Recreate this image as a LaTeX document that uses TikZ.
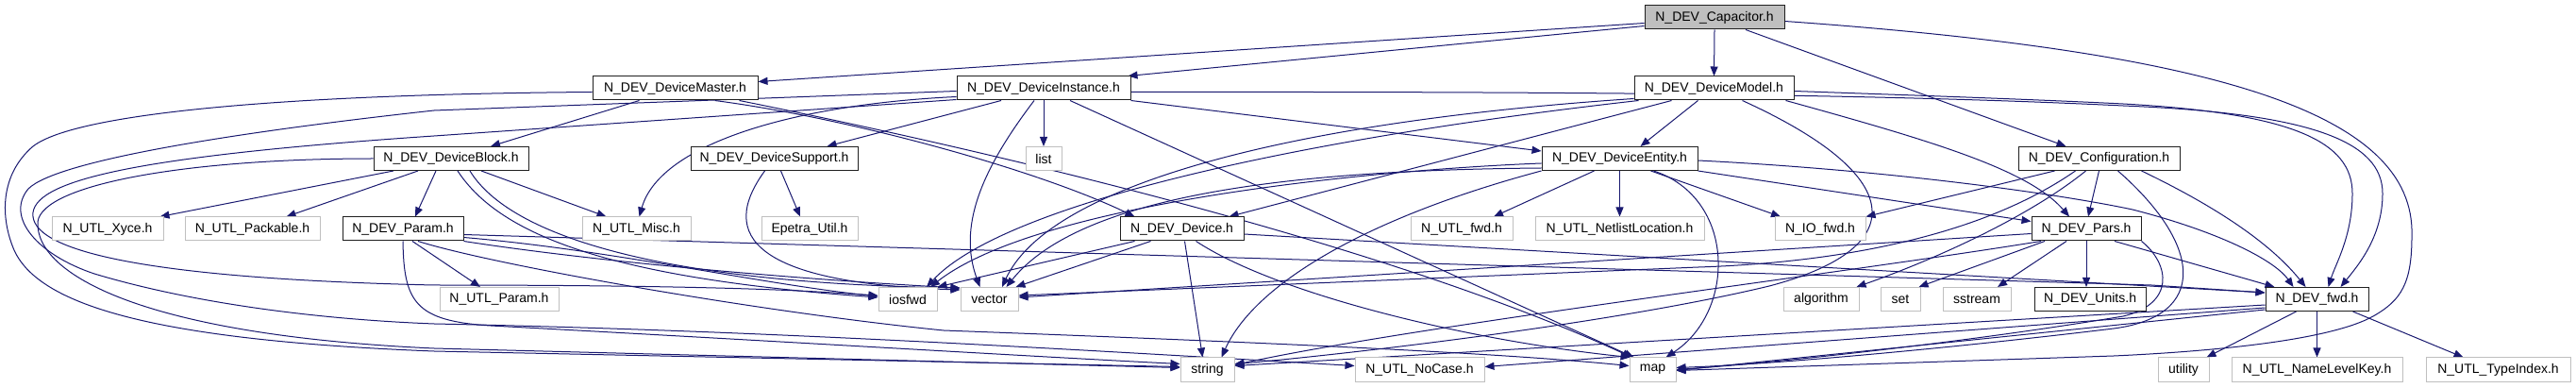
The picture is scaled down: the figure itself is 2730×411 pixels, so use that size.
\documentclass[tikz,border=0pt]{standalone}
\usepackage{fontspec}
\setmainfont{Liberation Sans}
\usetikzlibrary{arrows.meta}
\definecolor{edgeblue}{HTML}{191970}
\definecolor{extgrey}{HTML}{BFBFBF}
\definecolor{docborder}{HTML}{202020}
\pgfdeclarelayer{bglayer}
\pgfdeclarelayer{edgelayer}
\pgfsetlayers{bglayer,edgelayer,main}
\begin{document}
\begin{tikzpicture}[x=1pt,y=-1pt,
  box/.style={rectangle, minimum height=25pt, inner sep=0pt, line width=1pt, font=\fontsize{14}{16}\selectfont, fill=white, text=black},
  doc/.style={box, draw=docborder},
  ext/.style={box, draw=extgrey},
  cur/.style={box, draw=docborder, fill=extgrey},
  e/.style={draw=edgeblue, line width=1pt, -{Triangle[length=10pt,width=8pt]}}]
\begin{pgfonlayer}{bglayer}
\fill[white] (0,0) rectangle (2730,411);
\end{pgfonlayer}
\useasboundingbox (0,0) rectangle (2730,411);
% row 0
\node[cur, minimum width=148pt] (cap) at (1817,18.5) {N\_DEV\_Capacitor.h};
% row 1
\node[doc, minimum width=175pt] (master) at (715.5,93.5) {N\_DEV\_DeviceMaster.h};
\node[doc, minimum width=184pt] (inst) at (1106,93.5) {N\_DEV\_DeviceInstance.h};
\node[doc, minimum width=169pt] (model) at (1816.5,93.5) {N\_DEV\_DeviceModel.h};
% row 2
\node[doc, minimum width=164pt] (block) at (478,168) {N\_DEV\_DeviceBlock.h};
\node[doc, minimum width=177pt] (supp) at (820.5,168) {N\_DEV\_DeviceSupport.h};
\node[ext, minimum width=38pt] (list) at (1106,168) {list};
\node[doc, minimum width=165pt] (entity) at (1716.5,168) {N\_DEV\_DeviceEntity.h};
\node[doc, minimum width=171pt] (config) at (2224.5,168) {N\_DEV\_Configuration.h};
% row 3
\node[ext, minimum width=118pt] (xyce) at (114,242.5) {N\_UTL\_Xyce.h};
\node[ext, minimum width=143pt] (pack) at (267.5,242.5) {N\_UTL\_Packable.h};
\node[doc, minimum width=128pt] (param) at (427,242.5) {N\_DEV\_Param.h};
\node[ext, minimum width=115pt] (misc) at (674.5,242.5) {N\_UTL\_Misc.h};
\node[ext, minimum width=102pt] (epetra) at (858,242.5) {Epetra\_Util.h};
\node[doc, minimum width=131pt] (device) at (1252.5,242.5) {N\_DEV\_Device.h};
\node[ext, minimum width=108pt] (utlfwd) at (1549,242.5) {N\_UTL\_fwd.h};
\node[ext, minimum width=179pt] (netlist) at (1716.5,242.5) {N\_UTL\_NetlistLocation.h};
\node[ext, minimum width=96pt] (iofwd) at (1929,242.5) {N\_IO\_fwd.h};
\node[doc, minimum width=116pt] (pars) at (2211,242.5) {N\_DEV\_Pars.h};
% row 4
\node[ext, minimum width=126pt] (utlparam) at (529,317) {N\_UTL\_Param.h};
\node[ext, minimum width=62pt] (iosfwd) at (962,317) {iosfwd};
\node[ext, minimum width=61pt] (vector) at (1048.5,317) {vector};
\node[ext, minimum width=80pt] (algo) at (1930,317) {algorithm};
\node[ext, minimum width=42pt] (set) at (2014,317) {set};
\node[ext, minimum width=72pt] (sstream) at (2095,317) {sstream};
\node[doc, minimum width=118pt] (units) at (2215,317) {N\_DEV\_Units.h};
\node[doc, minimum width=109pt] (devfwd) at (2455.5,317) {N\_DEV\_fwd.h};
% row 5
\node[ext, minimum width=57pt] (string) at (1279.5,391.5) {string};
\node[ext, minimum width=137pt] (nocase) at (1504.5,391.5) {N\_UTL\_NoCase.h};
\node[ext, minimum width=49pt] (map) at (1751.5,391.5) {map};
\node[ext, minimum width=54pt] (utility) at (2314,391.5) {utility};
\node[ext, minimum width=181pt] (nlk) at (2455.5,391.5) {N\_UTL\_NameLevelKey.h};
\node[ext, minimum width=153pt] (typeidx) at (2647.5,391.5) {N\_UTL\_TypeIndex.h};

\begin{pgfonlayer}{edgelayer}
% Capacitor
\draw[e] ([yshift=-6]cap.west) -- ([yshift=7]master.east);
\draw[e] ([yshift=-9]cap.west) -- ([xshift=-3]inst.north east);
\draw[e] (cap.south) -- (model.north);
\draw[e] ([xshift=33]cap.south) -- ([xshift=-35]config.north);
\draw[e] ([yshift=-4]cap.east) .. controls (2350,55) and (2560,120) .. (2556,250) .. controls (2556,300) and (2545,318) .. (2515,335) .. controls (2470,360) and (2350,372) .. (2240,377) -- ([yshift=-1]map.east);
% DeviceMaster
\draw[e] ([xshift=-38]master.south) -- ([xshift=42]block.north);
\draw[e] ([xshift=42]master.south) .. controls (900,125) and (1100,180) .. ([xshift=-50]device.north);
\draw[e] ([xshift=68]master.south) .. controls (1000,150) and (1450,250) .. ([xshift=-22]map.north);
\draw[e] ([yshift=-4]master.west) .. controls (300,100) and (80,120) .. (35,155) .. controls (0,185) and (0,230) .. (15,265) .. controls (40,320) and (150,360) .. (460,372) -- ([yshift=3]string.west);
% DeviceInstance
\draw[e] ([xshift=-45]inst.south) -- ([xshift=56]supp.north);
\draw[e] (inst.south) -- (list.north);
\draw[e] ([xshift=-10]inst.south) .. controls (1040,180) and (1015,240) .. ([xshift=-10]vector.north);
\draw[e] ([yshift=-9]inst.west) .. controls (850,110) and (700,150) .. ([xshift=3]misc.north);
\draw[e] (inst.south east) -- ([yshift=8]entity.west);
\draw[e] ([xshift=28]inst.south) -- ([xshift=-20]map.north);
\draw[e] ([yshift=-4]inst.east) .. controls (1700,97) and (2000,100) .. (2250,112) .. controls (2450,120) and (2525,150) .. (2525,205) .. controls (2525,250) and (2500,280) .. ([xshift=25]devfwd.north);
\draw[e] ([yshift=-3]inst.west) -- (460,117) .. controls (250,140) and (60,170) .. (30,200) .. controls (5,230) and (40,270) .. (100,290) .. controls (200,320) and (330,338) .. (460,343) .. controls (800,350) and (1100,368) .. ([yshift=4]nocase.west);
\draw[e] ([yshift=1]inst.south west) -- (460,144) .. controls (150,165) and (40,190) .. (35,225) .. controls (30,265) and (150,295) .. (460,302) .. controls (800,302) and (880,310) .. ([yshift=4]iosfwd.west);
% DeviceBlock
\draw[e] ([xshift=-61]block.south) -- ([xshift=-4]xyce.north east);
\draw[e] ([xshift=-35]block.south) -- ([xshift=36]pack.north);
\draw[e] ([xshift=-16]block.south) -- ([xshift=13]param.north);
\draw[e] ([xshift=32]block.south) -- ([xshift=-32]misc.north);
\draw[e] ([xshift=7]block.south) .. controls (530,250) and (650,295) .. ([yshift=2]iosfwd.west);
\draw[e] ([xshift=20]block.south) .. controls (540,250) and (700,300) .. ([yshift=-1]vector.north west);
\draw[e] (block.west) .. controls (200,168) and (45,195) .. (40,235) .. controls (37,290) and (150,355) .. (460,369) -- ([yshift=2]string.west);
% DeviceSupport
\draw[e] ([xshift=7]supp.south) -- ([xshift=-10]epetra.north);
\draw[e] ([xshift=-10]supp.south) .. controls (760,250) and (800,300) .. ([yshift=-3]vector.north west);
% DeviceModel
\draw[e] ([xshift=-17]model.south) -- ([xshift=22]entity.north);
\draw[e] ([xshift=-45]model.south) -- ([xshift=50]device.north);
\draw[e] ([yshift=2]model.south west) .. controls (1350,130) and (1110,200) .. ([xshift=13.5]vector.north);
\draw[e] ([xshift=5]model.south west) .. controls (1350,150) and (1060,220) .. ([xshift=20]iosfwd.north);
\draw[e] ([yshift=-3]model.east) .. controls (2000,100) and (2150,105) .. (2250,110) .. controls (2430,120) and (2493,150) .. (2493,205) .. controls (2493,250) and (2475,280) .. ([xshift=12]devfwd.north);
\draw[e] ([xshift=76]model.south) .. controls (2050,150) and (2150,180) .. ([xshift=-18]pars.north);
\draw[e] ([xshift=30]model.south) .. controls (2030,190) and (2020,265) .. (1875,303) .. controls (1700,345) and (1400,378) .. ([yshift=6]string.east);
% DeviceEntity
\draw[e] ([xshift=-27]entity.south) -- ([xshift=34]utlfwd.north);
\draw[e] (entity.south) -- (netlist.north);
\draw[e] ([xshift=33]entity.south) -- ([xshift=-42]iofwd.north);
\draw[e] ([xshift=36]entity.south) .. controls (1840,210) and (1840,330) .. ([xshift=14]map.north);
\draw[e] (entity.south east) -- ([yshift=8]pars.west);
\draw[e] ([yshift=-2]entity.east) .. controls (2000,180) and (2180,205) .. (2260,222) .. controls (2350,245) and (2410,275) .. ([xshift=-25]devfwd.north);
\draw[e] ([yshift=-5]entity.west) .. controls (1450,180) and (1100,215) .. ([xshift=24]iosfwd.north);
\draw[e] ([yshift=-10]entity.west) .. controls (1400,180) and (1150,200) .. ([xshift=18]vector.north);
\draw[e] (entity.south west) .. controls (1450,230) and (1330,300) .. ([xshift=15]string.north);
% Configuration
\draw[e] ([xshift=-47]config.south) -- (iofwd.north east);
\draw[e] (config.south) -- ([xshift=2]pars.north);
\draw[e] ([xshift=-14]config.south) .. controls (2150,230) and (2050,275) .. ([xshift=-3]algo.north east);
\draw[e] ([xshift=-25]config.south) .. controls (2100,250) and (1950,278) .. (1800,283) -- ([yshift=4]vector.east);
\draw[e] ([xshift=20]config.south) .. controls (2335,260) and (2340,335) .. (2240,348) .. controls (2100,365) and (1900,385) .. ([yshift=2]map.east);
\draw[e] ([xshift=45]config.south) .. controls (2330,210) and (2400,250) .. ([xshift=-12]devfwd.north);
% Pars
\draw[e] ([xshift=-44]pars.south) -- ([xshift=-2]set.north east);
\draw[e] ([xshift=-21]pars.south) -- ([xshift=22]sstream.north);
\draw[e] (pars.south) -- ([xshift=-4]units.north);
\draw[e] ([xshift=30]pars.south) -- ([xshift=-45]devfwd.north);
\draw[e] ([yshift=-5]pars.west) -- ([yshift=2]vector.east);
\draw[e] ([xshift=-48]pars.south) .. controls (1950,290) and (1500,345) .. ([yshift=5]string.east);
\draw[e] (pars.south east) .. controls (2300,280) and (2305,322) .. (2250,335) .. controls (2100,360) and (1900,383) .. (map.east);
% Device
\draw[e] ([xshift=-50]device.south) -- (iosfwd.north east);
\draw[e] ([xshift=-33]device.south) -- ([xshift=-3]vector.north east);
\draw[e] ([xshift=3]device.south) -- ([xshift=-5]string.north);
\draw[e] ([xshift=15]device.south) .. controls (1350,310) and (1550,360) .. ([xshift=-24]map.north);
\draw[e] ([yshift=-5.5]device.east) -- ([yshift=7]devfwd.west);
% Param
\draw[e] ([xshift=10]param.south) -- ([xshift=-20]utlparam.north);
\draw[e] ([yshift=-6]param.east) -- (2280,302) -- ([yshift=7]devfwd.west);
\draw[e] ([yshift=-9]param.east) .. controls (650,265) and (800,300) .. ([yshift=3]iosfwd.west);
\draw[e] (param.south east) .. controls (650,280) and (880,298) .. ([yshift=-1]vector.north west);
\draw[e] (param.south) .. controls (428,320) and (440,340) .. (520,345) .. controls (800,360) and (1100,378) .. ([yshift=6]string.west);
\draw[e] ([xshift=16]param.south) .. controls (520,280) and (800,330) .. (1000,350) .. controls (1400,365) and (1600,375) .. ([yshift=4]map.west);
% N_DEV_fwd
\draw[e] ([xshift=-22]devfwd.south) -- ([xshift=-3]utility.north east);
\draw[e] (devfwd.south) -- (nlk.north);
\draw[e] ([xshift=38]devfwd.south) -- ([xshift=-37]typeidx.north);
\draw[e] ([yshift=-6]devfwd.west) -- ([yshift=4]string.east);
\draw[e] ([yshift=-9]devfwd.west) -- ([yshift=3]nocase.east);
\draw[e] ([yshift=-11]devfwd.west) -- ([yshift=-1]map.east);
\end{pgfonlayer}
\end{tikzpicture}
\end{document}
